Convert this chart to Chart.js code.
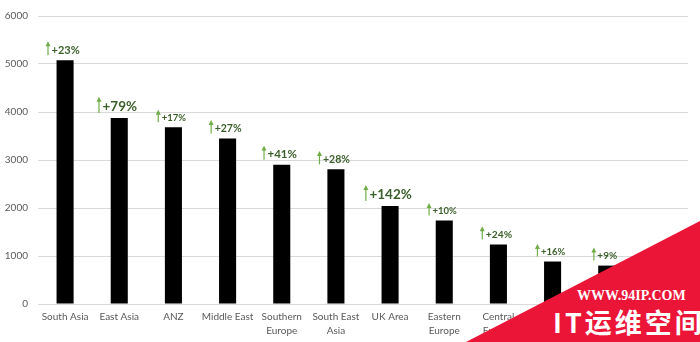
<!DOCTYPE html>
<html>
<head>
<meta charset="utf-8">
<script src="https://cdn.jsdelivr.net/npm/chart.js@4.4.0/dist/chart.umd.min.js"></script>
<style>
    html, body { margin: 0; padding: 0; background: #fff; }
    #wrap { position: relative; width: 700px; height: 342px; overflow: hidden; }
    #marca { position: absolute; left: 0; top: 0; width: 700px; height: 342px; background: #EB1537;
             clip-path: polygon(466px 342px, 700px 221px, 700px 342px); }
    #marca .url { position: absolute; left: 577px; top: 288px; font: bold 14px "Liberation Serif"; color: #fff; white-space: nowrap; }
    #marca .nome { position: absolute; left: 553px; top: 302px; font: bold 27px "Noto Sans CJK SC"; color: #fff; letter-spacing: 3px; white-space: nowrap; }
</style>
</head>
<body>
<div id="wrap">
    <canvas id="grafico" width="700" height="342"></canvas>
    <div id="marca"><span class="url">WWW.94IP.COM</span><span class="nome">IT运维空间</span></div>
</div>
<script>
// Dados
const regioes = [['South Asia'], ['East Asia'], ['ANZ'], ['Middle East'], ['Southern', 'Europe'],
    ['South East', 'Asia'], ['UK Area'], ['Eastern', 'Europe'], ['Central', 'Europe'],
    ['Western', 'Europe'], ['North', 'America'], ['Africa']];
const valores = [5080, 3875, 3680, 3450, 2900, 2805, 2040, 1740, 1240, 885, 800, 650];
const variacao = ['+23%', '+79%', '+17%', '+27%', '+41%', '+28%', '+142%', '+10%', '+24%', '+16%', '+9%', null];
const escalaY = [0, 1000, 2000, 3000, 4000, 5000, 6000];

// tamanho da fonte de cada rótulo (estilo)
const tamanhos = [11, 13.5, 9.5, 10.5, 11.5, 10.5, 13.5, 9.5, 10.3, 9.5, 10, 9];

// Setas verdes com a variação acima de cada barra
const setas = {
    id: 'setas',
    afterDatasetsDraw(chart) {
        const ctx = chart.ctx;
        const meta = chart.getDatasetMeta(0);
        meta.data.forEach((bar, i) => {
            const txt = variacao[i];
            if (!txt) return;
            const size = tamanhos[i];
            ctx.save();
            ctx.font = 'bold ' + size + 'px Lato';
            const w = ctx.measureText(txt).width;
            const left = bar.x - 2 - (w + 5) / 2;
            const yMid = bar.y - 5 - size * 0.45;
            const h = size * 0.45;
            // seta
            ctx.strokeStyle = '#70AD47';
            ctx.lineWidth = 1.2;
            ctx.beginPath();
            ctx.moveTo(left + 1.5, yMid + h);
            ctx.lineTo(left + 1.5, yMid - h - 1);
            ctx.stroke();
            ctx.fillStyle = '#70AD47';
            ctx.beginPath();
            ctx.moveTo(left - 1, yMid - h + 1);
            ctx.lineTo(left + 1.5, yMid - h - 4);
            ctx.lineTo(left + 4, yMid - h + 1);
            ctx.closePath();
            ctx.fill();
            // texto
            ctx.fillStyle = '#3A5F2A';
            ctx.textBaseline = 'middle';
            ctx.fillText(txt, left + 5, yMid);
            ctx.restore();
        });
    }
};

new Chart(document.getElementById('grafico').getContext('2d'), {
    type: 'bar',
    data: {
        labels: regioes,
        datasets: [{
            data: valores,
            backgroundColor: '#000000',
            categoryPercentage: 1,
            barPercentage: 0.315
        }]
    },
    options: {
        responsive: false,
        animation: false,
        layout: { padding: { top: 14, right: 12, left: 0, bottom: 0 } },
        plugins: {
            legend: { display: false },
            tooltip: { enabled: false }
        },
        scales: {
            x: {
                grid: { display: false, drawTicks: false },
                border: { color: '#D9D9D9' },
                ticks: {
                    color: '#595959',
                    font: { family: 'Lato', size: 10, lineHeight: 1.4 },
                    padding: 6,
                    maxRotation: 0,
                    autoSkip: false
                },
                afterFit(s) { s.height = 38; }
            },
            y: {
                min: escalaY[0],
                max: escalaY[escalaY.length - 1],
                afterBuildTicks(s) { s.ticks = escalaY.map(v => ({ value: v })); },
                grid: { color: '#D9D9D9', drawTicks: false },
                border: { display: false },
                ticks: {
                    color: '#595959',
                    font: { family: 'Lato', size: 10 },
                    padding: 10,
                    callback: v => String(v)
                },
                afterFit(s) { s.width = 38; }
            }
        }
    },
    plugins: [setas]
});
</script>
</body>
</html>
